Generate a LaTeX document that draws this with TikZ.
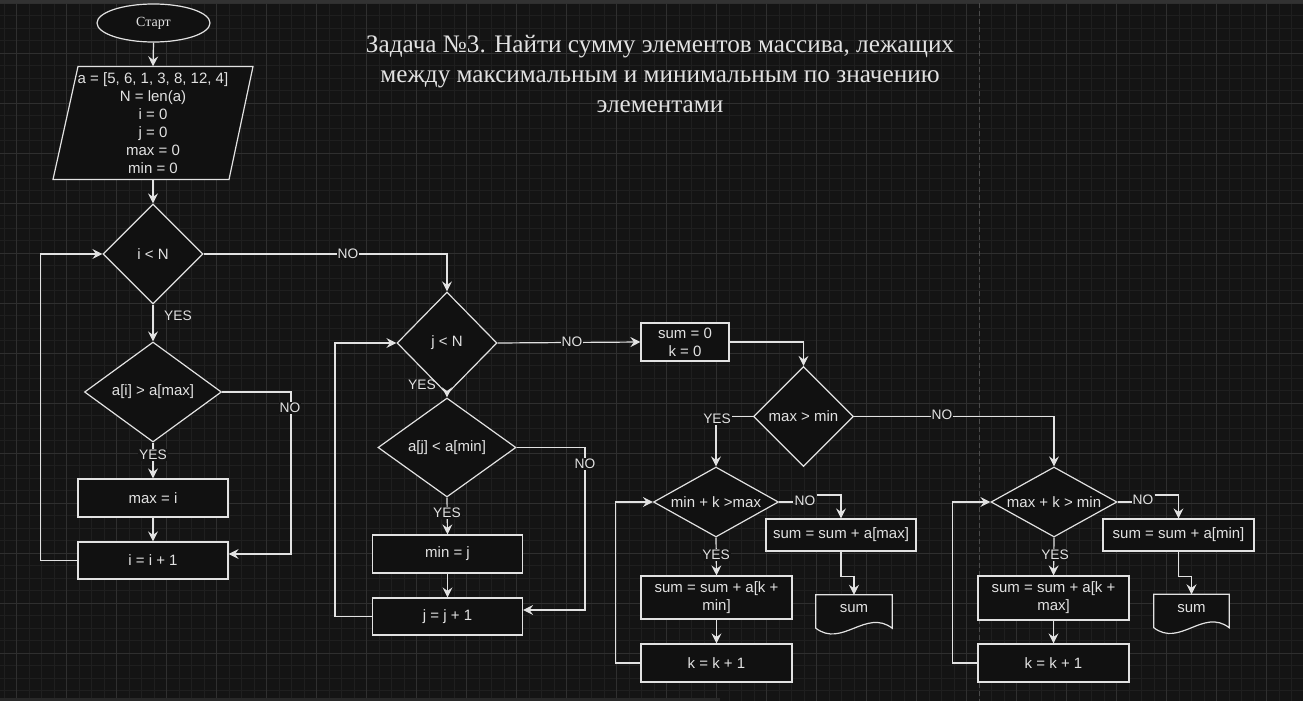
\documentclass[tikz,border=0pt]{standalone}
\usepackage{fontspec}
\setmainfont{Liberation Sans}
\newfontfamily\titlefont{Liberation Serif}
\usetikzlibrary{shapes.geometric,arrows.meta,calc}
\definecolor{bg}{HTML}{141414}
\definecolor{shapefill}{HTML}{111111}
\definecolor{gridminor}{HTML}{1F1F1F}
\definecolor{gridmajor}{HTML}{2F2F2F}
\definecolor{fg}{HTML}{E2E2E2}
\definecolor{dashcol}{HTML}{4A4A4A}
\definecolor{topstrip}{HTML}{323232}
\definecolor{scrollbar}{HTML}{282828}
\begin{document}
\begin{tikzpicture}[x=1pt,y=-1pt,
  line/.style={draw=fg, line width=1.2pt},
  arr/.style={line, -{Stealth[length=10pt,width=10pt,inset=3.5pt]}},
  shp/.style={draw=fg, fill=shapefill, line width=1.2pt},
  txt/.style={text=fg, font=\fontsize{15}{18}\selectfont, align=center, inner sep=0pt},
  box/.style={shp, txt, minimum width=150, minimum height=38},
  dia/.style={diamond, shp, txt},
  lbl/.style={text=fg, font=\fontsize{13.75}{16}\selectfont, inner sep=1pt},
  lblf/.style={lbl, fill=bg}]
\useasboundingbox (0,0) rectangle (1303,701);
\fill[bg] (0,0) rectangle (1303,701);
% grid
\foreach \i in {0,...,104} {\draw[gridminor, line width=0.8pt] ({4.2+12.5*\i},0) -- ({4.2+12.5*\i},701);}
\foreach \i in {0,...,56} {\draw[gridminor, line width=0.8pt] (0,{3.3+12.5*\i}) -- (1303,{3.3+12.5*\i});}
\foreach \i in {0,...,25} {\draw[gridmajor, line width=0.9pt] ({16.7+50*\i},0) -- ({16.7+50*\i},701);}
\foreach \i in {0,...,13} {\draw[gridmajor, line width=0.9pt] (0,{3.3+50*\i}) -- (1303,{3.3+50*\i});}
\fill[topstrip] (0,0) rectangle (1303,3);
\fill[scrollbar] (0,698) rectangle (720,701);
\draw[dashcol, line width=0.9pt, dash pattern=on 5pt off 3pt] (979,3) -- (979,701);

% title
\node[text=fg, font=\titlefont\fontsize{25.2}{30}\selectfont, align=center, inner sep=0] (title) at (660,73.5)
  {Задача №3. Найти сумму элементов массива, лежащих\\между максимальным и минимальным по значению\\элементами};

% left column
\node[ellipse, shp, text=fg, font=\titlefont\fontsize{14}{16}\selectfont, minimum width=113, minimum height=38, inner sep=0] (start) at (153.5,23) {\raisebox{-1.5pt}{Старт}};
\filldraw[shp] (53,179.5) -- (78,66.5) -- (253,66.5) -- (229,179.5) -- cycle;
\node[txt, minimum width=150, minimum height=113] (p) at (153,123)
  {a = [5, 6, 1, 3, 8, 12, 4]\\N = len(a)\\i = 0\\j = 0\\max = 0\\min = 0};
\node[dia, minimum width=100, minimum height=100] (d1) at (153,254) {i < N};
\node[dia, minimum width=137, minimum height=100] (d2) at (153,392) {a[i] > a[max]};
\node[box] (rmax) at (153,498) {max = i};
\node[box, minimum height=37] (rii) at (153,560.5) {i = i + 1};

% second column
\node[dia, minimum width=100, minimum height=102] (d3) at (447,343) {j < N};
\node[dia, minimum width=138, minimum height=99] (d4) at (447,447.5) {a[j] < a[min]};
\node[box] (rmin) at (447.5,554) {min = j};
\node[box, minimum height=37] (rij) at (447.5,616.5) {j = j + 1};

% third column
\node[box, minimum width=88] (rs0) at (685,342) {sum = 0\\k = 0};
\node[dia, minimum width=100, minimum height=100] (d5) at (803.5,416.5) {max > min};
\node[dia, minimum width=125, minimum height=70, aspect=1.8] (d6) at (716,502) {min + k >max};
\node[box, minimum height=32] (r7) at (841,535) {sum = sum + a[max]};
\node[box, minimum width=151, minimum height=43] (r8) at (716.5,597.5) {sum = sum + a[k +\\min]};
\node[box, minimum width=151] (r9) at (716.5,663) {k = k + 1};
\node[minimum width=76, minimum height=40, inner sep=0] (doc1) at (854,615) {};
\filldraw[shp] (doc1.north west) -- (doc1.north east) -- ($(doc1.south east)+(0,-7)$)
  .. controls ($(doc1.south east)+(-26,-27)$) and ($(doc1.south west)+(26,13)$) .. ($(doc1.south west)+(0,-7)$) -- cycle;
\node[txt] at (854,609) {sum};

% fourth column
\node[dia, minimum width=126, minimum height=70, aspect=1.8] (d8) at (1054,502) {max + k > min};
\node[box, minimum width=151, minimum height=32] (r10) at (1178.5,535) {sum = sum + a[min]};
\node[box, minimum width=151, minimum height=44] (r11) at (1053.5,598) {sum = sum + a[k +\\max]};
\node[box, minimum width=151] (r12) at (1053.5,663) {k = k + 1};
\node[minimum width=75, minimum height=40, inner sep=0] (doc2) at (1191.5,614.5) {};
\filldraw[shp] (doc2.north west) -- (doc2.north east) -- ($(doc2.south east)+(0,-7)$)
  .. controls ($(doc2.south east)+(-26,-27)$) and ($(doc2.south west)+(26,13)$) .. ($(doc2.south west)+(0,-7)$) -- cycle;
\node[txt] at (1191.5,609) {sum};

% connectors, left column
\draw[arr] (start.south) -- (p.north);
\draw[arr] (p.south) -- (d1.north);
\draw[arr] (d1.south) -- (d2.north);
\node[lbl] at (178,316) {YES};
\draw[arr] (d2.south) -- (rmax.north);
\node[lblf] at (153,455) {YES};
\draw[arr] (rmax.south) -- (rii.north);
\draw[arr] (d2.east) -- (291,392) |- ($(rii.east)+(0,-6.5)$);
\node[lblf] at (290,408) {NO};
\draw[arr] (rii.west) -- ++(-37,0) |- (d1.west);
\draw[arr] (d1.east) -| (d3.north);
\node[lblf] at (348,254) {NO};

% connectors, second column
\draw[arr] (d3.south) -- (d4.north);
\node[lbl] at (422,385) {YES};
\draw[arr] (d4.south) -- (rmin.north);
\node[lblf] at (447,513) {YES};
\draw[arr] (rmin.south) -- (rij.north);
\draw[arr] (d4.east) -- (585,447.5) |- ($(rij.east)+(0,-6.5)$);
\node[lblf] at (585,464) {NO};
\draw[arr] (rij.west) -- ++(-37,0) |- (d3.west);
\draw[arr] (d3.east) -- (rs0.west);
\node[lblf] at (572,342) {NO};

% connectors, third column
\draw[arr] (rs0.east) -| (d5.north);
\draw[arr] (d5.west) -| (d6.north);
\node[lblf] at (717,419) {YES};
\draw[arr] (d5.east) -| (d8.north);
\node[lblf] at (942,415) {NO};
\node[lbl] (no6) at (805,501) {NO};
\draw[line] (d6.east) -- (no6.west |- d6.east);
\draw[arr] ($(no6.east)+(0,-6)$) -| (r7.north);
\draw[arr] (r7.south) -- ++(0,25) -| (doc1.north);
\draw[arr] (d6.south) -- (r8.north);
\node[lblf] at (716,555) {YES};
\draw[arr] (r8.south) -- (r9.north);
\draw[arr] (r9.west) -- ++(-25,0) |- (d6.west);

% connectors, fourth column
\node[lbl] (no8) at (1143,500) {NO};
\draw[line] (d8.east) -- (no8.west |- d8.east);
\draw[arr] ($(no8.east)+(0,-5)$) -| (r10.north);
\draw[arr] (r10.south) -- ++(0,25) -| (doc2.north);
\draw[arr] (d8.south) -- (r11.north);
\node[lblf] at (1055,555) {YES};
\draw[arr] (r11.south) -- (r12.north);
\draw[arr] (r12.west) -- ++(-25,0) |- (d8.west);
\end{tikzpicture}
\end{document}
